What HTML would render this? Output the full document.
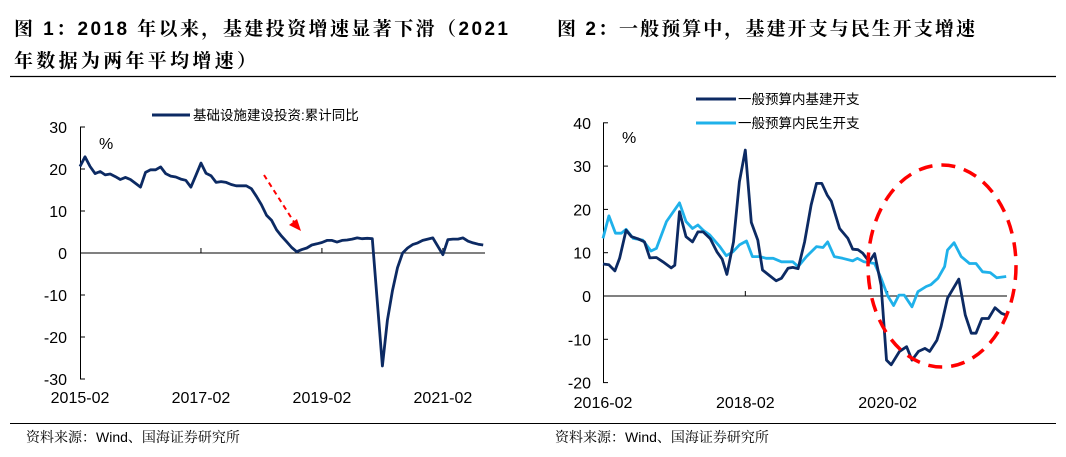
<!DOCTYPE html>
<html><head><meta charset="utf-8">
<style>
body{margin:0;width:1066px;height:457px;background:#fff;overflow:hidden;font-family:"Liberation Sans","Noto Sans CJK SC",sans-serif}
svg{position:absolute;left:0;top:0}
.t{font-family:"Liberation Sans","Noto Serif CJK SC",serif;font-weight:bold;font-size:19px;fill:#000}
.tk{font-size:16px;fill:#000}
.lg{font-size:13.5px;fill:#000}
</style></head><body>
<svg id="s" width="1066" height="457">
<text class="t" x="14" y="35" textLength="494" lengthAdjust="spacing">图 1：2018 年以来，基建投资增速显著下滑（2021</text>
<text class="t" x="14" y="67" textLength="242" lengthAdjust="spacing">年数据为两年平均增速）</text>
<text class="t" x="557" y="35" textLength="418" lengthAdjust="spacing">图 2：一般预算中，基建开支与民生开支增速</text>
<line x1="10" y1="76.5" x2="1056" y2="76.5" stroke="#000" stroke-width="1.2"/>
<line x1="10" y1="423.5" x2="1056" y2="423.5" stroke="#000" stroke-width="1"/>
<text x="26" y="442" font-size="14" font-family="Liberation Sans,Noto Serif CJK SC,serif">资料来源：Wind、国海证券研究所</text>
<text x="555" y="442" font-size="14" font-family="Liberation Sans,Noto Serif CJK SC,serif">资料来源：Wind、国海证券研究所</text>
<g id="c1"></g><g id="c2"></g>
</svg>
<script>
// Chart 1 data: month offset from 2015-02, value
const c1Months=[0,1,2,3,4,5,6,7,8,9,10,11,12,13,14,15,16,17,18,19,20,21,22,23,24,25,26,27,28,29,30,31,32,33,34,35,36,37,38,39,40,41,42,43,44,45,46,47,48,49,50,51,52,53,54,55,56,57,58,60,61,62,63,64,65,66,67,68,69,70,72,73,74,75,76,77,78,79,80];
const c1Values=[20.6,22.9,20.6,18.9,19.4,18.6,18.8,18.2,17.5,18,17.5,16.6,15.7,19.2,19.8,19.8,20.5,18.9,18.3,18.1,17.6,17.3,15.7,18.5,21.4,19,18.4,16.8,17,16.8,16.3,16,16,16,15.3,13.5,11.5,9,7.8,5.5,4,2.7,1.3,0.3,0.8,1.2,1.9,2.2,2.5,3,3,2.6,3,3.1,3.3,3.6,3.4,3.5,3.4,-26.9,-16,-8.9,-3.5,0,1.2,2,2.4,3,3.3,3.6,-0.4,3.2,3.3,3.3,3.6,2.8,2.4,2.1,1.9];
const c1Ticks=[30,20,10,0,-10,-20,-30];
const c1XLabels=["2015-02","2017-02","2019-02","2021-02"];
const c1XLabelMonths=[0,24,48,72];
// Chart 2 data: month offset from 2016-02
const c2DarkMonths=[0,1.0,2.0,2.8,3.9,4.8,5.9,7.0,7.9,9.0,10.1,11.5,12.1,12.9,14.0,15.1,16.0,16.9,18.1,19.2,20.1,20.9,22.0,23.0,24.0,25.0,26.1,26.9,28.1,29.2,30.1,31.2,32.0,32.9,34.0,35.1,36.0,36.9,37.8,38.5,39.9,41.3,42.1,43.0,43.8,44.9,45.8,46.9,47.8,48.6,50.0,51.2,52.1,53.2,54.3,55.1,56.3,57.0,58.1,60.0,61.1,62.1,62.9,63.9,65.0,66.1,67.2,68.0];
const c2DarkValues=[7.4,7.2,5.8,8.7,15.2,13.7,13.2,12.5,8.8,8.9,7.9,6.5,7.1,19.5,13.7,12.5,14.8,14.8,13.2,10.2,8.5,5,12.5,26.4,33.7,17,12.9,6,4.7,3.5,4.1,6.4,6.6,6.3,12.5,21,26,26,23.3,21.9,15.6,13.3,10.8,10.7,9.9,7.9,9.8,2.5,-14.8,-15.9,-12.8,-11.7,-14.8,-12.8,-12.1,-12.8,-10.2,-7.1,-0.5,3.9,-4.4,-8.6,-8.6,-5.2,-5.2,-2.7,-4,-4.4];
const c2LightMonths=[0,1.0,2.1,3.1,3.9,5.1,6.7,8.1,9.0,10.7,12.9,14.0,15.1,16.0,16.9,18.0,19.7,20.8,21.9,23.0,24.2,25.2,26.4,27.5,28.7,30.1,32.0,32.9,34.3,36.0,37.1,37.9,39.0,40.4,42.1,42.9,44.0,45.8,46.9,48.0,49.0,49.9,50.8,52.1,53.1,54.5,55.3,56.5,57.6,58.1,59.2,60.4,61.8,62.9,64.0,65.3,66.4,68.0];
const c2LightValues=[13.3,18.5,14.5,14.5,15.4,13.3,12.9,10.4,11,17.2,21.5,17.2,15.6,16.4,15.2,14.1,11.4,9.3,10.2,11.8,12.7,9.1,9.1,8.7,8.7,7.9,7.9,6.8,9.1,11.4,11.2,12.5,9.1,8.7,8.1,8.7,7.9,7.5,4.1,0.1,-2.2,0.2,0.2,-2.5,1,2.2,2.6,4.1,6.8,10.6,12.3,9.1,7.5,7.5,5.6,5.4,4.2,4.5];
const c2Ticks=[40,30,20,10,0,-10,-20];
const c2XLabels=["2016-02","2018-02","2020-02"];
const c2XLabelMonths=[0,24,48];

const NS="http://www.w3.org/2000/svg";
function mk(p,tag,a){const e=document.createElementNS(NS,tag);for(const k in a)e.setAttribute(k,a[k]);p.appendChild(e);return e;}

// chart 1
(function(){
const g=document.getElementById('c1');
const x=m=>80+m*5.04, y=v=>253-v*4.2;
let e=mk(g,'line',{x1:80.5,y1:y(30),x2:80.5,y2:y(-30),stroke:'#000'});


e=mk(g,'line',{x1:80,y1:y(0),x2:485,y2:y(0),stroke:'#000'});


c1Ticks.forEach(t=>{
 let l=mk(g,'line',{x1:80,y1:y(t),x2:85,y2:y(t),stroke:'#000'});
 
 
 let s=mk(g,'text',{x:67,y:y(t)+6,'text-anchor':'end',class:'tk'});s.textContent=t;
 
 
});
c1XLabelMonths.forEach((m,i)=>{
 if(i>0){let l=mk(g,'line',{x1:x(m),y1:y(0),x2:x(m),y2:y(0)-5,stroke:'#000'});
 
 }
 let s=mk(g,'text',{x:x(m),y:403,'text-anchor':'middle',class:'tk'});s.textContent=c1XLabels[i];
 
 
});
let pc=mk(g,'text',{x:99,y:149,class:'tk','font-size':'16'});pc.textContent='%';


let d=c1Months.map((m,i)=>(i?'L':'M')+x(m).toFixed(1)+','+y(c1Values[i]).toFixed(1)).join('');
let p=mk(g,'path',{d:d,fill:'none',stroke:'#0c2a63','stroke-width':2.8,'stroke-linejoin':'round'});


let ll=mk(g,'line',{x1:152,y1:115,x2:190,y2:115,stroke:'#0c2a63','stroke-width':3});


let lt=mk(g,'text',{x:193,y:120,class:'lg'});lt.textContent='基础设施建设投资:累计同比';


let ar=mk(g,'line',{x1:264,y1:175,x2:294,y2:222,stroke:'#f00','stroke-width':2,'stroke-dasharray':'5,4'});


let ah=mk(g,'polygon',{points:'301,231 289,225 297,219',fill:'#f00'});


})();

// chart 2
(function(){
const g=document.getElementById('c2');
const x=m=>603+m*5.93, y=v=>296-v*4.33;
let e=mk(g,'line',{x1:603.5,y1:y(40),x2:603.5,y2:y(-20),stroke:'#000'});


e=mk(g,'line',{x1:603,y1:y(0),x2:1007,y2:y(0),stroke:'#000'});


c2Ticks.forEach(t=>{
 let l=mk(g,'line',{x1:603,y1:y(t),x2:608,y2:y(t),stroke:'#000'});
 
 
 let s=mk(g,'text',{x:591,y:y(t)+6,'text-anchor':'end',class:'tk'});s.textContent=t;
 
 
});
c2XLabelMonths.forEach((m,i)=>{
 if(i>0){let l=mk(g,'line',{x1:x(m),y1:y(0),x2:x(m),y2:y(0)-5,stroke:'#000'});
 
 }
 let s=mk(g,'text',{x:x(m),y:408,'text-anchor':'middle',class:'tk'});s.textContent=c2XLabels[i];
 
 
});
let pc=mk(g,'text',{x:622,y:143,class:'tk','font-size':'16'});pc.textContent='%';


let dl=c2LightMonths.map((m,i)=>(i?'L':'M')+x(m).toFixed(1)+','+y(c2LightValues[i]).toFixed(1)).join('');
let p2=mk(g,'path',{d:dl,fill:'none',stroke:'#1fb1ea','stroke-width':2.8,'stroke-linejoin':'round'});


let dd=c2DarkMonths.map((m,i)=>(i?'L':'M')+x(m).toFixed(1)+','+y(c2DarkValues[i]).toFixed(1)).join('');
let p1=mk(g,'path',{d:dd,fill:'none',stroke:'#0c2a63','stroke-width':2.8,'stroke-linejoin':'round'});


let l1=mk(g,'line',{x1:696,y1:99,x2:736,y2:99,stroke:'#0c2a63','stroke-width':3});


let t1=mk(g,'text',{x:738,y:104,class:'lg'});t1.textContent='一般预算内基建开支';


let l2=mk(g,'line',{x1:696,y1:123,x2:736,y2:123,stroke:'#1fb1ea','stroke-width':3});


let t2=mk(g,'text',{x:738,y:128,class:'lg'});t2.textContent='一般预算内民生开支';


let el=mk(g,'ellipse',{cx:942,cy:266,rx:74,ry:101,fill:'none',stroke:'#f00','stroke-width':3.5,'stroke-dasharray':'14,9'});


})();
</script>
</body></html>
